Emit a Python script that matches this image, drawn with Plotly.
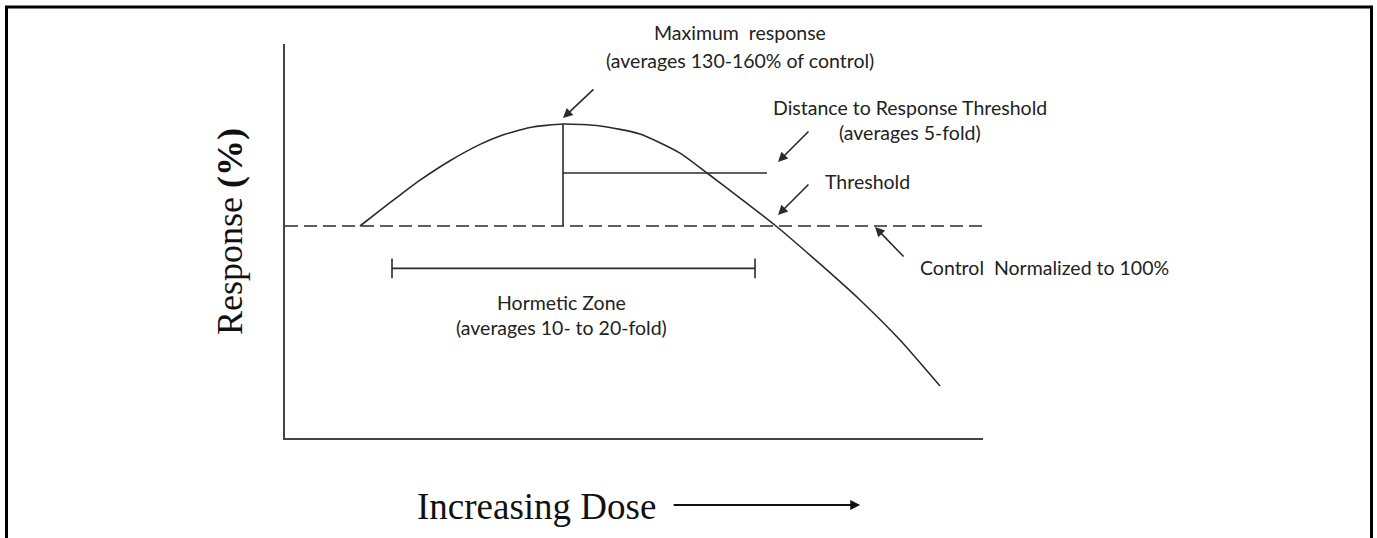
import plotly.graph_objects as go

# ---- data (conceptual units: dose 0-10, response %) ----
dose = [1.074, 1.361, 1.648, 1.934, 2.364, 2.794, 3.080, 3.510, 3.983, 4.513,
        5.086, 5.659, 6.046, 6.519, 7.034, 7.665, 8.238, 8.811, 9.384]
response = [100.0, 107.4, 114.6, 121.6, 130.8, 138.5, 142.5, 146.5, 148.1, 147.2,
            143.4, 134.4, 125.0, 113.2, 100.0, 82.1, 65.1, 46.2, 24.5]

control_level = 100.0
control_dose = [0.0, 10.0]
peak_dose = 3.983
peak_response = 148.1
threshold_level = 125.0
threshold_end_dose = 6.905
hormetic_level = 80.0
hormetic_dose = [1.533, 6.734]
cap_half = 4.7

XR = [0, 10]
YR = [0, 185.85]

LINE = "#2b2b2b"
TXT = "#222222"
SANS = "Lato, 'Open Sans', sans-serif"
SERIF = "'Liberation Serif', 'Times New Roman', serif"
FS = 19.5

fig = go.Figure()

# dose-response curve
fig.add_trace(go.Scatter(x=dose, y=response, mode="lines",
                         line=dict(color=LINE, width=1.6, shape="spline", smoothing=0.6),
                         hoverinfo="skip", showlegend=False))
# control (dashed)
fig.add_trace(go.Scatter(x=control_dose, y=[control_level] * 2, mode="lines",
                         line=dict(color=LINE, width=1.6, dash="13px,6px"),
                         hoverinfo="skip", showlegend=False))
# vertical at peak
fig.add_trace(go.Scatter(x=[peak_dose, peak_dose], y=[control_level, peak_response], mode="lines",
                         line=dict(color=LINE, width=1.6), hoverinfo="skip", showlegend=False))
# threshold horizontal
fig.add_trace(go.Scatter(x=[peak_dose, threshold_end_dose], y=[threshold_level] * 2, mode="lines",
                         line=dict(color=LINE, width=1.6), hoverinfo="skip", showlegend=False))
# hormetic zone bar with caps
hx = [hormetic_dose[0], hormetic_dose[0], None, hormetic_dose[0], hormetic_dose[1], None,
      hormetic_dose[1], hormetic_dose[1]]
hy = [hormetic_level - cap_half, hormetic_level + cap_half, None, hormetic_level, hormetic_level, None,
      hormetic_level - cap_half, hormetic_level + cap_half]
fig.add_trace(go.Scatter(x=hx, y=hy, mode="lines", line=dict(color=LINE, width=1.6),
                         hoverinfo="skip", showlegend=False))

annotations = []


def arrow(hx_, hy_, tx, ty):
    annotations.append(dict(x=hx_, y=hy_, ax=tx, ay=ty, xref="x", yref="y", axref="x", ayref="y",
                            text="", showarrow=True, arrowhead=2, arrowsize=1.2, arrowwidth=1.6,
                            arrowcolor=LINE))


def label(x, y, text, anchor="center", ref="data"):
    xr, yr = ("x", "y") if ref == "data" else ("paper", "paper")
    annotations.append(dict(x=x, y=y, xref=xr, yref=yr, text=text, showarrow=False,
                            xanchor=anchor, yanchor="middle", align="center",
                            font=dict(family=SANS, size=FS, color=TXT)))


arrow(3.983, 150.9, 4.441, 165.1)
arrow(7.063, 130.2, 7.521, 145.3)
arrow(7.063, 105.2, 7.521, 120.3)
arrow(8.453, 99.5, 8.883, 84.9)

label(0.652, 1.028, "Maximum  response", ref="paper")
label(0.652, 0.959, "(averages 130-160% of control)", ref="paper")
label(8.954, 155.7, "Distance to Response Threshold")
label(8.954, 143.9, "(averages 5-fold)")
label(7.708, 120.8, "Threshold", anchor="left")
label(9.069, 80.2, "Control  Normalized to 100%", anchor="left")
label(3.968, 63.7, "Hormetic Zone")
label(3.968, 51.9, "(averages 10- to 20-fold)")

# axis titles (serif) and dose arrow, in paper coords
annotations.append(dict(x=-0.079, y=0.525, xref="paper", yref="paper", text="Response <b>(%)</b>",
                        textangle=-90, showarrow=False, xanchor="center", yanchor="middle",
                        font=dict(family=SERIF, size=36, color="#111")))
annotations.append(dict(x=0.361, y=-0.175, xref="paper", yref="paper", text="Increasing Dose",
                        showarrow=False, xanchor="center", yanchor="middle",
                        font=dict(family=SERIF, size=37, color="#111")))
annotations.append(dict(x=0.824, y=-0.170, ax=-188, ay=0, xref="paper", yref="paper",
                        axref="pixel", ayref="pixel", text="", showarrow=True, arrowhead=2,
                        arrowsize=1.1, arrowwidth=1.8, arrowcolor="#111"))

fig.update_layout(
    width=1377, height=538,
    margin=dict(l=285, r=394, t=44, b=100),
    paper_bgcolor="white", plot_bgcolor="white",
    showlegend=False,
    annotations=annotations,
    xaxis=dict(range=XR, showgrid=False, zeroline=False, showticklabels=False, ticks="",
               showline=True, linecolor="#444", linewidth=2, fixedrange=True),
    yaxis=dict(range=YR, showgrid=False, zeroline=False, showticklabels=False, ticks="",
               showline=True, linecolor="#444", linewidth=2, fixedrange=True),
    shapes=[dict(type="rect", xref="paper", yref="paper", x0=-0.3990, x1=1.5566,
                 y0=-0.35, y1=1.0940, line=dict(color="black", width=3))],
)

fig.write_html("out.html", config={"displayModeBar": False},
               post_script="document.body.style.margin='0';document.body.style.overflow='hidden';")
